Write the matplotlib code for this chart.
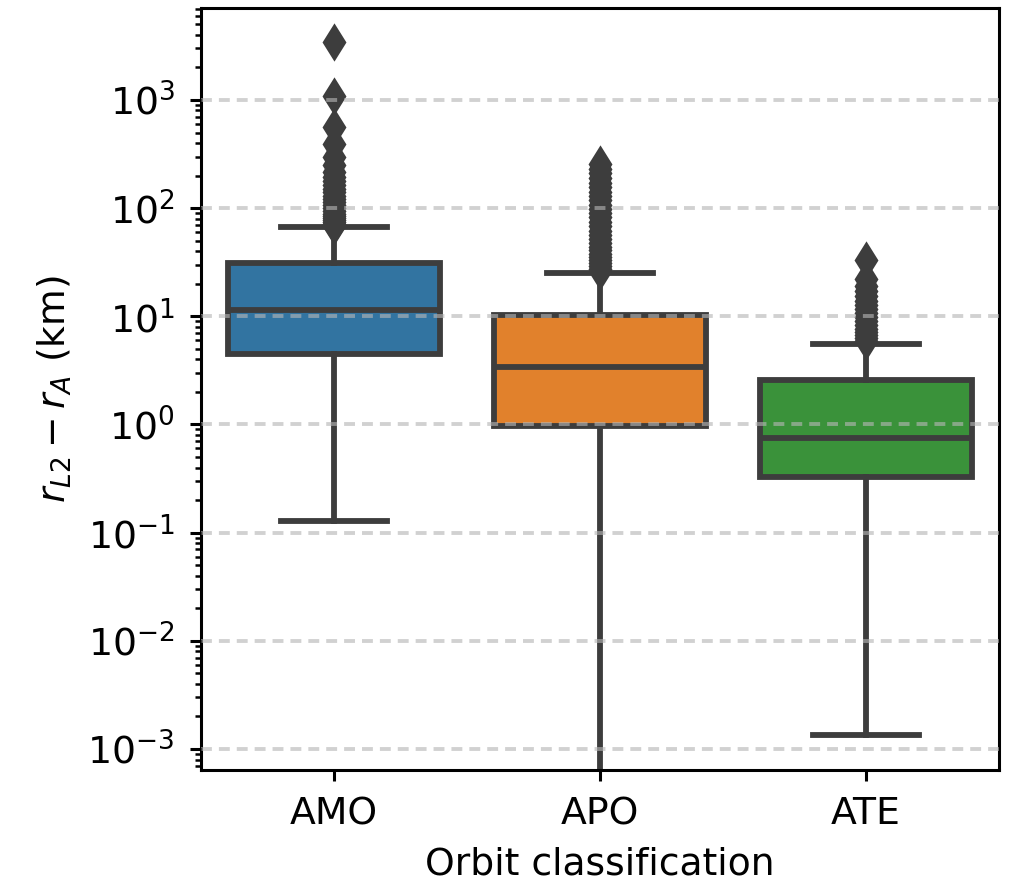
import matplotlib
matplotlib.use("Agg")
import matplotlib.pyplot as plt
import numpy as np

# Orbit classes and their box statistics (km)
categories = ["AMO", "APO", "ATE"]
colors = ["#3274a1", "#e1812c", "#3a923a"]

q1 = [4.5, 0.97, 0.33]
median = [11.5, 3.4, 0.75]
q3 = [31.0, 10.3, 2.6]
whisker_low = [0.128, 1e-5, 0.00135]
whisker_high = [67.0, 25.0, 5.6]

fliers_amo = [3400, 1090, 560, 390, 300, 250, 215, 195, 178, 162, 150, 140, 130,
              121, 113, 106, 100, 94, 89, 85, 81, 78, 75, 72, 70, 69]
fliers_apo = [256, 232, 210, 190, 172, 156, 142, 130, 118, 108, 98, 90, 82, 75,
              68, 62, 57, 52, 48, 44, 41, 38, 35, 33, 31, 29, 27.5, 26]
fliers_ate = [33, 22, 19, 17, 15.5, 14, 12.8, 11.7, 10.7, 9.8, 9.0, 8.3, 7.7,
              7.2, 6.7, 6.3, 5.9]
fliers = [fliers_amo, fliers_apo, fliers_ate]

edge = "#3d3d3d"
lw = 2.1
fs = 13.6

plt.rcParams["font.family"] = "DejaVu Sans"
plt.rcParams["mathtext.fontset"] = "dejavusans"

fig = plt.figure(figsize=(5.05, 4.445), dpi=200)
ax = fig.add_axes([201 / 1010, 1 - 770 / 889, 798 / 1010, 762 / 889])

stats = []
for i, cat in enumerate(categories):
    stats.append(dict(label=cat, med=median[i], q1=q1[i], q3=q3[i],
                      whislo=whisker_low[i], whishi=whisker_high[i],
                      fliers=np.array(fliers[i])))

bp = ax.bxp(stats, positions=range(len(categories)), widths=0.8,
            patch_artist=True, showfliers=True,
            boxprops=dict(edgecolor=edge, linewidth=lw),
            medianprops=dict(color=edge, linewidth=lw),
            whiskerprops=dict(color=edge, linewidth=lw),
            capprops=dict(color=edge, linewidth=lw),
            flierprops=dict(marker="d", markerfacecolor=edge,
                            markeredgecolor=edge, markersize=8.3,
                            markeredgewidth=1.2, linestyle="none"),
            capwidths=0.4)
for patch, c in zip(bp["boxes"], colors):
    patch.set_facecolor(c)

ax.set_yscale("log")
ax.set_ylim(6.4e-4, 7.08e3)
ax.set_xlim(-0.5, 2.5)
ax.set_yticks([1e-3, 1e-2, 1e-1, 1e0, 1e1, 1e2, 1e3])

ax.grid(axis="y", which="major", color="#b6b6b6", alpha=0.62,
        linewidth=1.4, linestyle=(0, (2.8, 1.8)), zorder=5)
ax.set_axisbelow(False)

for s in ax.spines.values():
    s.set_linewidth(1.1)
ax.tick_params(axis="both", which="major", length=4, width=1.1,
               labelsize=fs, pad=5.5)
ax.tick_params(axis="y", which="minor", length=2.3, width=0.9)

ax.set_xlabel("Orbit classification", fontsize=fs, labelpad=5)
ax.set_ylabel(r"$r_{L2} - r_A$ (km)", fontsize=fs, labelpad=5)

fig.savefig("out.png", dpi=200)
